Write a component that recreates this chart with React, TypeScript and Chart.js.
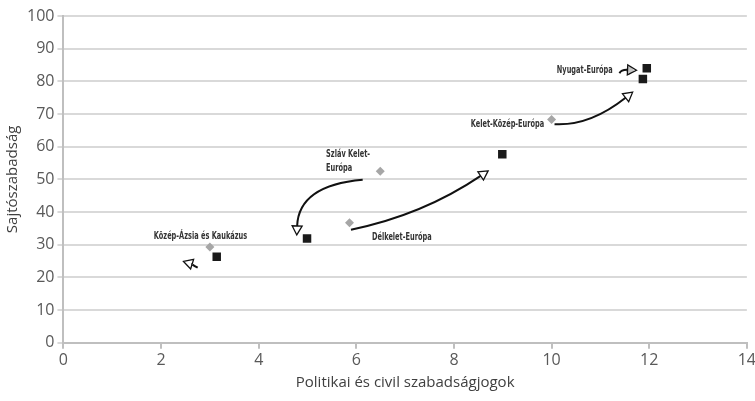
import React, { useEffect, useRef } from "react";
import { Chart, registerables } from "chart.js";

Chart.register(...registerables);

// Data
const squareX = [11.95, 11.87, 8.99, 4.99, 3.14];
const squareY = [84.0, 80.7, 57.7, 31.9, 26.3];
const diamondX = [11.6, 10.0, 6.49, 5.86, 3.0];
const diamondY = [83.4, 68.3, 52.5, 36.7, 29.3];

const xTicks = [0, 2, 4, 6, 8, 10, 12, 14];
const yTicks = [0, 10, 20, 30, 40, 50, 60, 70, 80, 90, 100];

const regionLabels = [
  "Nyugat-Európa",
  "Kelet-Közép-Európa",
  "Szláv Kelet-|Európa",
  "Délkelet-Európa",
  "Közép-Ázsia és Kaukázus",
];
// label anchors in data coordinates [x, y, align]
const labelAnchors: [number, number, CanvasTextAlign][] = [
  [11.25, 83.4, "right"],
  [9.85, 66.9, "right"],
  [5.38, 57.7, "left"],
  [6.32, 32.2, "left"],
  [1.85, 32.5, "left"],
];
// arrows: start, control, end (data coordinates)
const arrows: number[][] = [
  [11.39, 82.5, 11.43, 83.6, 11.74, 83.4],
  [10.06, 66.9, 10.78, 66.3, 11.66, 76.7],
  [6.13, 49.9, 4.82, 48.2, 4.78, 33.0],
  [5.89, 34.6, 7.36, 39.1, 8.7, 52.6],
  [2.75, 23.0, 2.61, 24.2, 2.46, 24.9],
];

const annotationPlugin = {
  id: "annotations",
  afterDatasetsDraw(chart: any) {
    const { ctx, scales } = chart;
    const xs = scales.x;
    const ys = scales.y;
    ctx.save();
    // arrows
    arrows.forEach((a) => {
      const sx = xs.getPixelForValue(a[0]);
      const sy = ys.getPixelForValue(a[1]);
      const cx = xs.getPixelForValue(a[2]);
      const cy = ys.getPixelForValue(a[3]);
      const ex = xs.getPixelForValue(a[4]);
      const ey = ys.getPixelForValue(a[5]);
      const ang = Math.atan2(ey - cy, ex - cx);
      const headLen = 9;
      const headW = 5;
      const bx = ex - Math.cos(ang) * headLen;
      const by = ey - Math.sin(ang) * headLen;
      ctx.strokeStyle = "#111";
      ctx.lineWidth = 2;
      ctx.beginPath();
      ctx.moveTo(sx, sy);
      ctx.quadraticCurveTo(cx, cy, bx, by);
      ctx.stroke();
      ctx.beginPath();
      ctx.moveTo(ex, ey);
      ctx.lineTo(bx + Math.sin(ang) * headW, by - Math.cos(ang) * headW);
      ctx.lineTo(bx - Math.sin(ang) * headW, by + Math.cos(ang) * headW);
      ctx.closePath();
      ctx.fillStyle = "rgba(255,255,255,0.35)";
      ctx.fill();
      ctx.lineWidth = 1.3;
      ctx.stroke();
    });
    // labels (condensed)
    const squeeze = 0.6;
    ctx.font = "bold 11px 'DejaVu Sans', sans-serif";
    ctx.fillStyle = "#333";
    ctx.textBaseline = "middle";
    regionLabels.forEach((txt, i) => {
      const [lx, ly, al] = labelAnchors[i];
      const px = xs.getPixelForValue(lx);
      const py = ys.getPixelForValue(ly);
      txt.split("|").forEach((line, j) => {
        ctx.save();
        ctx.translate(px, py + j * 14);
        ctx.scale(squeeze, 1);
        ctx.textAlign = al;
        ctx.fillText(line, 0, 0);
        ctx.restore();
      });
    });
    ctx.restore();
  },
};

export default function App() {
  const ref = useRef<HTMLCanvasElement | null>(null);
  useEffect(() => {
    if (!ref.current) return;
    const tickFont = { family: "'Open Sans', sans-serif", size: 16 };
    const titleFont = { family: "'Open Sans', sans-serif", size: 15 };
    const chart = new Chart(ref.current, {
      type: "scatter",
      data: {
        datasets: [
          {
            label: "diamonds",
            data: diamondX.map((x, i) => ({ x, y: diamondY[i] })),
            pointStyle: "rectRot",
            pointRadius: 4.5,
            backgroundColor: "#a6a6a6",
            borderColor: "#a6a6a6",
            borderWidth: 0,
          },
          {
            label: "squares",
            data: squareX.map((x, i) => ({ x, y: squareY[i] })),
            pointStyle: "rect",
            pointRadius: 6,
            backgroundColor: "#1a1a1a",
            borderColor: "#1a1a1a",
            borderWidth: 0,
          },
        ],
      },
      options: {
        animation: false,
        responsive: false,
        maintainAspectRatio: false,
        layout: { padding: { left: 4, right: 0, top: 16, bottom: 9 } },
        plugins: {
          legend: { display: false },
          tooltip: { enabled: false },
        },
        scales: {
          x: {
            type: "linear",
            min: 0,
            max: 14,
            afterBuildTicks: (axis: any) => {
              axis.ticks = xTicks.map((v) => ({ value: v }));
            },
            ticks: { color: "#595959", font: tickFont, padding: 2 },
            grid: {
              drawOnChartArea: false,
              drawTicks: true,
              tickLength: 6,
              color: "#bfbfbf",
              lineWidth: 2,
            },
            border: { color: "#bfbfbf", width: 2 },
            title: {
              display: true,
              text: "Politikai és civil szabadságjogok",
              color: "#404040",
              font: titleFont,
              padding: { top: 2, bottom: 0 },
            },
          },
          y: {
            type: "linear",
            min: 0,
            max: 100,
            afterBuildTicks: (axis: any) => {
              axis.ticks = yTicks.map((v) => ({ value: v }));
            },
            ticks: { color: "#595959", font: tickFont, padding: 3 },
            grid: {
              drawOnChartArea: true,
              drawTicks: true,
              tickLength: 6,
              color: "#d9d9d9",
              lineWidth: 2,
            },
            border: { color: "#bfbfbf", width: 2 },
            title: {
              display: true,
              text: "Sajtószabadság",
              color: "#404040",
              font: titleFont,
              padding: { top: 0, bottom: 2 },
            },
          },
        },
      },
      plugins: [annotationPlugin],
    });
    return () => chart.destroy();
  }, []);
  return (
    <div
      style={{
        position: "absolute",
        left: 0,
        top: 0,
        width: 755,
        height: 401,
        overflow: "hidden",
        background: "#fff",
      }}
    >
      <canvas ref={ref} width={758} height={401} />
    </div>
  );
}
